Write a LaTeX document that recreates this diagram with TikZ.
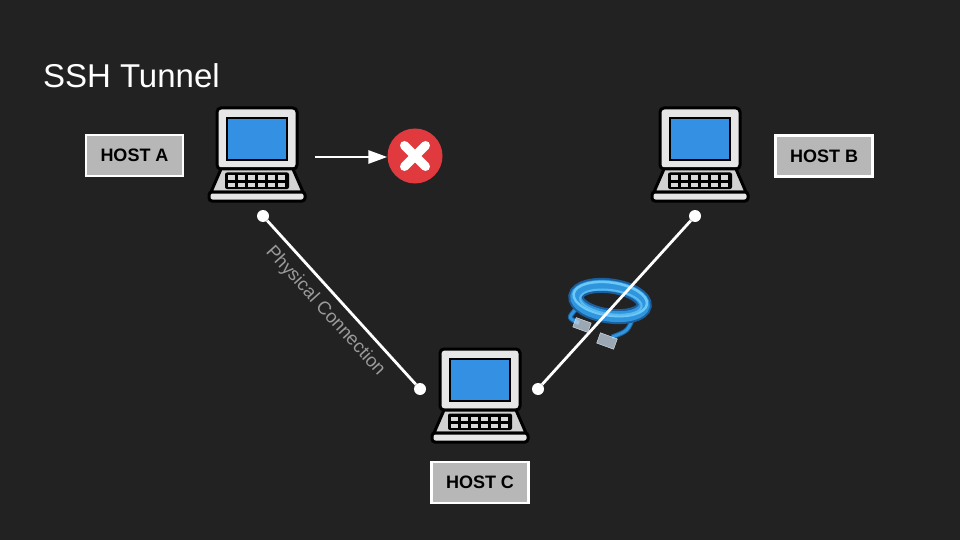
\documentclass[tikz,border=0pt]{standalone}
\usepackage{fontspec}
\setmainfont{Liberation Sans}
\usetikzlibrary{arrows.meta}
\definecolor{bg}{HTML}{222222}
\definecolor{lidgray}{HTML}{E6E6E6}
\definecolor{basegray}{HTML}{D2D2D2}
\definecolor{keygray}{HTML}{D9D9D9}
\definecolor{labelgray}{HTML}{B7B7B7}
\definecolor{physgray}{HTML}{9A9A9A}
\definecolor{redx}{HTML}{E03A3E}
\definecolor{screenblue}{HTML}{3390E2}
\definecolor{cabledark}{HTML}{1B5F9E}
\definecolor{cablemid}{HTML}{2F95DD}
\definecolor{cablelight}{HTML}{6CC8F7}
\definecolor{plugcol}{HTML}{C4D6E6}
\tikzstyle{hostlabel} = [rectangle, draw=white, line width=2.5pt, fill=labelgray, minimum width=97pt, minimum height=41pt, font=\fontsize{18}{20}\selectfont\bfseries, text=black]
\tikzstyle{dot} = [circle, fill=white, inner sep=0pt, minimum size=12pt]
\tikzstyle{link} = [draw=white, line width=2.8pt]
\tikzstyle{plug} = [draw=plugcol!60!white, fill=plugcol, fill opacity=0.75, rotate=-20, inner sep=0pt]

\begin{document}
\begin{tikzpicture}[x=1pt,y=-1pt]
	\tikzset{laptop/.pic={
		\draw[line width=3pt, fill=lidgray, rounded corners=4pt] (-40,-47) rectangle (40,14);
		\draw[line width=2pt, fill=screenblue] (-30,-37) rectangle (30,5);
		\draw[line width=3pt, fill=basegray, line join=round] (-36,14) -- (36,14) -- (46,37) -- (-46,37) -- cycle;
		\draw[line width=3pt, fill=lidgray, rounded corners=3pt] (-48,37) rectangle (48,46);
		\fill[black, rounded corners=2pt] (-32,17.5) rectangle (32,34);
		\foreach \i in {0,...,5}
			\foreach \j in {0,1}
				\fill[keygray] (-29+\i*9.9,20.5+\j*7) rectangle ++(7.4,4.5);
	}}
	\fill[bg] (0,0) rectangle (960,540);
	\useasboundingbox (0,0) rectangle (960,540);
	\node[anchor=base west, text=white, font=\fontsize{33}{36}\selectfont] (title) at (39.5,88) {SSH Tunnel};
	\pic (lapA) at (257,155) {laptop};
	\pic (lapB) at (700,155) {laptop};
	\pic (lapC) at (480,396) {laptop};
	\node[hostlabel] (hostA) at (134.5,155.5) {HOST A};
	\node[hostlabel] (hostB) at (824,156) {HOST B};
	\node[hostlabel] (hostC) at (480,482.5) {HOST C};
	\node[circle, fill=redx, minimum size=55pt, inner sep=0pt] (deny) at (415,156) {};
	\draw[white, line width=9pt, line cap=round] ([shift={(-10.5,-10.5)}]deny.center) -- ([shift={(10.5,10.5)}]deny.center);
	\draw[white, line width=9pt, line cap=round] ([shift={(-10.5,10.5)}]deny.center) -- ([shift={(10.5,-10.5)}]deny.center);
	\coordinate (arrstart) at (315,157);
	\draw[white, line width=2.8pt, -{Triangle[length=19pt,width=13pt]}] (arrstart) -- (deny.west |- arrstart);
	\draw[cabledark, line width=5pt] (576,309) .. controls (568,318) .. (579,323);
	\draw[cablemid, line width=3pt] (576,309) .. controls (568,318) .. (579,323);
	\draw[cabledark, line width=5pt] (634,315) .. controls (628,331) .. (612,337);
	\draw[cablemid, line width=3pt] (634,315) .. controls (628,331) .. (612,337);
	\begin{scope}[rotate around={-8:(610,301)}]
		\draw[cabledark, line width=15pt] (610,301) ellipse [x radius=34.5, y radius=15];
		\draw[cablemid, line width=11pt] (610,301) ellipse [x radius=34.5, y radius=15];
		\draw[cablelight, line width=2.5pt] (610,299) ellipse [x radius=37, y radius=16.5];
		\draw[cablelight!70!cablemid, line width=2pt] (611,302) ellipse [x radius=31, y radius=12];
		\draw[cabledark, line width=1pt] (610,301) ellipse [x radius=27.5, y radius=8.5];
	\end{scope}
	\node[plug, minimum width=16pt, minimum height=10pt] (plug1) at (582,325) {};
	\node[plug, minimum width=18pt, minimum height=11pt] (plug2) at (607,341) {};
	\node[dot] (dotA) at (263,216) {};
	\node[dot] (dotCl) at (420,389) {};
	\node[dot] (dotCr) at (538,389) {};
	\node[dot] (dotB) at (695,216) {};
	\draw[link] (dotA) -- node[pos=0.48, below=4.5pt, sloped, text=physgray, font=\fontsize{18.5}{20}\selectfont] {Physical Connection} (dotCl);
	\draw[link] (dotCr) -- (dotB);
\end{tikzpicture}
\end{document}
